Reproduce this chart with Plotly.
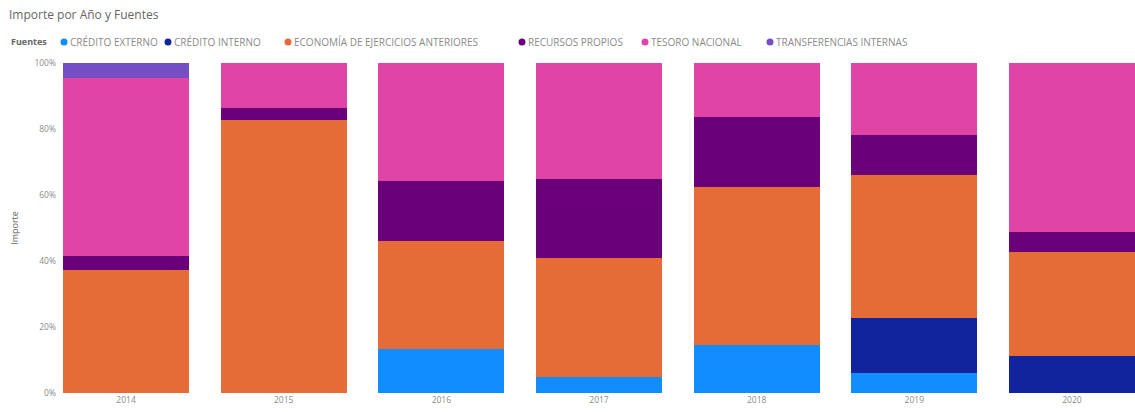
import plotly.graph_objects as go

# Años del eje de categorías
anios = ["2014", "2015", "2016", "2017", "2018", "2019", "2020"]

# Participación (%) de cada fuente en el importe anual
credito_externo = [0, 0, 13.3, 4.9, 14.5, 6.0, 0]
credito_interno = [0, 0, 0, 0, 0, 16.7, 11.2]
economia_ejercicios = [37.3, 82.7, 32.8, 35.9, 47.8, 43.4, 31.6]
recursos_propios = [4.2, 3.8, 18.1, 24.0, 21.4, 12.1, 6.1]
tesoro_nacional = [54.0, 13.5, 35.8, 35.2, 16.3, 21.8, 51.1]
transferencias_internas = [4.5, 0, 0, 0, 0, 0, 0]

# Etiquetas del eje Y
y_ticks = [0, 20, 40, 60, 80, 100]
y_tick_labels = ["0%", "20%", "40%", "60%", "80%", "100%"]

fuentes = ["CRÉDITO EXTERNO", "CRÉDITO INTERNO", "ECONOMÍA DE EJERCICIOS ANTERIORES",
           "RECURSOS PROPIOS", "TESORO NACIONAL", "TRANSFERENCIAS INTERNAS"]
valores_por_fuente = [credito_externo, credito_interno, economia_ejercicios,
                      recursos_propios, tesoro_nacional, transferencias_internas]
colores = ["#118DFF", "#12239E", "#E66C37", "#6B007B", "#E044A7", "#744EC2"]

FONT = "Open Sans, Noto Sans, sans-serif"
GRIS = "#8a8a8a"
W, H = 1135, 412
M_L, M_R, M_T, M_B = 63, 0, 63, 19
PLOT_W = W - M_L - M_R
PLOT_H = H - M_T - M_B


def px_x(px):
    """Convierte una posición horizontal en píxeles a coordenadas de papel."""
    return (px - M_L) / PLOT_W


def px_y(py):
    """Convierte una posición vertical en píxeles a coordenadas de papel."""
    return (H - M_B - py) / PLOT_H


fig = go.Figure()
x_idx = list(range(len(anios)))
for nombre, valores, color in zip(fuentes, valores_por_fuente, colores):
    fig.add_trace(go.Bar(
        x=x_idx, y=valores, name=nombre, marker=dict(color=color, line=dict(width=0)),
        width=0.8, showlegend=False,
        hovertemplate="%{y:.1f}%<extra>" + nombre + "</extra>",
    ))

# Leyenda horizontal compacta: marcador circular + texto
LEG_Y = 42
pos_marcador = [64, 168, 288, 522, 645, 770]
annotations = [
    dict(text="<b>Fuentes</b>", x=px_x(9), y=px_y(LEG_Y), xref="paper", yref="paper",
         xanchor="left", yanchor="middle", showarrow=False,
         font=dict(size=9, color="#666666", family=FONT)),
]
shapes = []
for nombre, color, mx in zip(fuentes, colores, pos_marcador):
    shapes.append(dict(
        type="circle", xref="paper", yref="paper", xsizemode="pixel", ysizemode="pixel",
        xanchor=px_x(mx), yanchor=px_y(LEG_Y), x0=-3.5, x1=3.5, y0=-3.5, y1=3.5,
        fillcolor=color, line=dict(width=0),
    ))
    annotations.append(dict(
        text=nombre, x=px_x(mx + 4), y=px_y(LEG_Y), xref="paper", yref="paper",
        xanchor="left", yanchor="middle", showarrow=False,
        font=dict(size=10, color=GRIS, family=FONT),
    ))

fig.update_layout(
    width=W, height=H,
    barmode="stack", barnorm="percent",
    plot_bgcolor="white", paper_bgcolor="white",
    margin=dict(l=M_L, r=M_R, t=M_T, b=M_B),
    font=dict(family=FONT, color=GRIS, size=9),
    showlegend=False,
    title=dict(text="Importe por Año y Fuentes", x=9 / W, xanchor="left",
               y=1 - 15 / H, yanchor="middle", xref="container", yref="container",
               font=dict(size=12, color="#666666", family=FONT)),
    annotations=annotations,
    shapes=shapes,
    xaxis=dict(
        tickmode="array", tickvals=x_idx, ticktext=anios, range=[-0.4, 6.4],
        showgrid=False, zeroline=False, showline=False, ticks="",
        tickfont=dict(size=8.5, color=GRIS),
    ),
    yaxis=dict(
        range=[0, 100], tickmode="array", tickvals=y_ticks, ticktext=y_tick_labels,
        showgrid=False, zeroline=False, showline=False, ticks="",
        tickfont=dict(size=8.5, color=GRIS), ticklabelstandoff=6,
        title=dict(text="Importe", font=dict(size=9, color="#666666"), standoff=14),
    ),
)

fig.write_html("out.html")
